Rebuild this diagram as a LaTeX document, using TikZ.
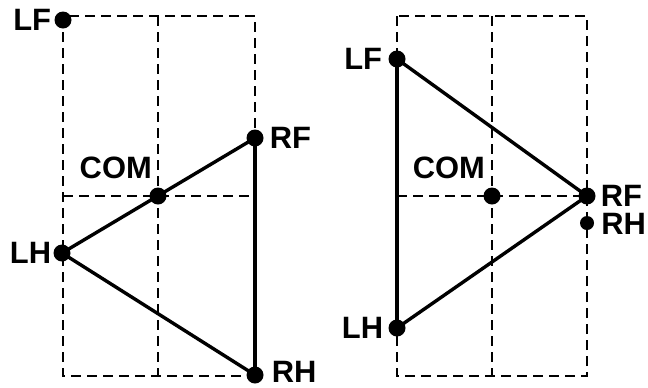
\documentclass[tikz,border=0pt]{standalone}
\usepackage{fontspec}
\setmainfont{Liberation Sans}
\tikzset{
  gridline/.style={line width=2.6bp, dash pattern=on 10bp off 6bp},
  edge/.style={line width=3.4bp},
  dot/.style={circle, fill=black, inner sep=0pt, minimum size=17bp},
  smalldot/.style={circle, fill=black, inner sep=0pt, minimum size=14bp},
  lbl/.style={font=\fontsize{31}{31}\selectfont\bfseries, inner sep=0pt}
}
\begin{document}
\begin{tikzpicture}[x=1bp,y=-1bp]
\useasboundingbox (0,0) rectangle (648,387);
% ---------- left diagram ----------
\draw[gridline] (63,16) rectangle (255,376);
\draw[gridline] (158,16) -- (158,376);
\draw[gridline] (63,196) -- (255,196);
\node[dot] (LFa) at (63,20) {};
\node[dot] (RFa) at (255,138) {};
\node[dot] (COMa) at (158,196) {};
\node[dot] (LHa) at (62,253) {};
\node[dot] (RHa) at (255,375) {};
\draw[edge] (LHa.center) -- (RFa.center);
\draw[edge] (LHa.center) -- (RHa.center);
\draw[edge] (RFa.center) -- (RHa.center);
\node[lbl, anchor=east] (tLFa) at ([xshift=-3bp]LFa.west) {LF};
\node[lbl, anchor=west] (tRFa) at ([xshift=6bp]RFa.east) {RF};
\node[lbl, anchor=south east] (tCOMa) at ([xshift=-6bp,yshift=17bp]COMa.center) {COM};
\node[lbl, anchor=east] (tLHa) at ([xshift=-2bp]LHa.west) {LH};
\node[lbl, anchor=west] (tRHa) at ([xshift=8bp,yshift=3bp]RHa.east) {RH};
% ---------- right diagram ----------
\draw[gridline] (397,16) rectangle (587,376);
\draw[gridline] (492,16) -- (492,376);
\draw[gridline] (397,196) -- (587,196);
\node[dot] (LFb) at (397,59) {};
\node[dot] (LHb) at (397,328) {};
\node[dot] (RFb) at (587,196) {};
\node[smalldot] (RHb) at (587,223) {};
\node[dot] (COMb) at (492,196) {};
\draw[edge] (LFb.center) -- (LHb.center);
\draw[edge] (LFb.center) -- (RFb.center);
\draw[edge] (LHb.center) -- (RFb.center);
\node[lbl, anchor=east] (tLFb) at ([xshift=-6bp]LFb.west) {LF};
\node[lbl, anchor=east] (tLHb) at ([xshift=-5bp]LHb.west) {LH};
\node[lbl, anchor=west] (tRFb) at ([xshift=5bp]RFb.east) {RF};
\node[lbl, anchor=west] (tRHb) at ([xshift=7bp,yshift=-1bp]RHb.east) {RH};
\node[lbl, anchor=south east] (tCOMb) at ([xshift=-7bp,yshift=17bp]COMb.center) {COM};
\end{tikzpicture}
\end{document}
